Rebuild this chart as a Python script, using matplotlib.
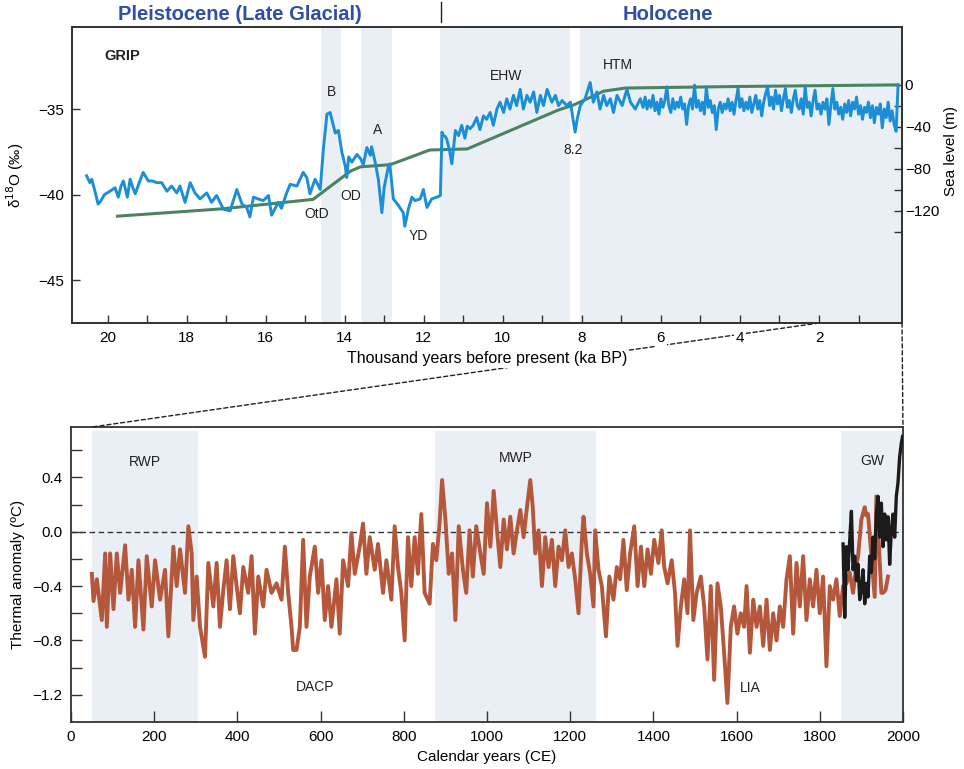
import matplotlib
matplotlib.use('Agg')
import matplotlib.pyplot as plt
import numpy as np
from matplotlib.patches import ConnectionPatch
from matplotlib.ticker import FuncFormatter

plt.rcParams['font.family'] = ['Liberation Sans', 'DejaVu Sans']

# ---------------- GRIP d18O (ka BP, permil) ----------------
grip_glacial = [
    (20.53, -38.9), (20.45, -39.3), (20.40, -39.1), (20.32, -39.8), (20.24, -40.55),
    (20.18, -40.4), (20.08, -40.0), (19.94, -39.8), (19.81, -39.6), (19.73, -40.15),
    (19.66, -39.5), (19.60, -39.2), (19.50, -40.15), (19.43, -39.1), (19.36, -39.6),
    (19.30, -39.95), (19.20, -39.3), (19.10, -38.7), (18.97, -39.2), (18.86, -39.2),
    (18.76, -39.3), (18.63, -39.3), (18.50, -39.8), (18.38, -39.5), (18.25, -39.9),
    (18.17, -39.5), (18.04, -40.45), (17.91, -39.3), (17.79, -39.9), (17.66, -40.25),
    (17.49, -39.9), (17.37, -40.45), (17.24, -40.05), (17.07, -40.85), (16.90, -40.95),
    (16.73, -39.7), (16.60, -40.55), (16.48, -40.75), (16.40, -41.3), (16.31, -40.15),
    (16.19, -40.25), (16.06, -40.35), (15.93, -40.05), (15.85, -41.2), (15.68, -40.45),
    (15.60, -40.8), (15.47, -39.9), (15.38, -39.4), (15.21, -39.5), (15.05, -38.7),
    (14.96, -39.0), (14.88, -39.95), (14.75, -39.1), (14.62, -39.7), (14.54, -37.35),
    (14.45, -35.3), (14.37, -35.2), (14.29, -35.95), (14.24, -36.4), (14.16, -36.25),
    (14.07, -37.55), (13.99, -38.3), (13.95, -39.0), (13.90, -37.8), (13.82, -38.1),
    (13.69, -37.65), (13.60, -37.9), (13.53, -38.25), (13.44, -37.25), (13.35, -37.7),
    (13.32, -37.2), (13.23, -38.1), (13.15, -39.1), (13.06, -41.05), (13.00, -39.55),
    (12.89, -38.3), (12.86, -38.2), (12.77, -40.25), (12.65, -40.6), (12.52, -41.05),
    (12.48, -41.85), (12.39, -40.85), (12.30, -40.15), (12.22, -40.35), (12.09, -40.25),
    (12.01, -39.7), (11.92, -40.75), (11.80, -40.25), (11.67, -40.15), (11.58, -40.05),
]

grip_early_holocene = [
    (11.54, -36.35), (11.50, -36.55), (11.46, -36.6), (11.42, -36.75), (11.35, -37.4),
    (11.29, -38.2), (11.20, -36.25), (11.12, -36.55), (11.04, -35.95), (10.96, -36.7),
    (10.90, -36.0), (10.83, -36.15), (10.75, -35.95), (10.66, -35.5), (10.58, -36.2),
    (10.49, -35.4), (10.41, -35.6), (10.32, -35.2), (10.24, -35.95), (10.15, -35.0),
    (10.07, -34.6), (9.98, -35.2), (9.90, -34.4), (9.82, -35.0), (9.73, -34.2),
    (9.65, -34.8), (9.56, -33.85), (9.48, -35.0), (9.39, -34.2), (9.31, -34.6),
    (9.22, -34.0), (9.14, -35.2), (9.05, -34.2), (8.97, -34.8), (8.88, -33.85),
    (8.76, -34.6), (8.67, -34.2), (8.59, -34.8), (8.50, -34.5), (8.38, -34.8),
    (8.29, -34.6), (8.21, -35.8), (8.17, -36.35), (8.12, -35.6), (8.04, -34.8),
    (7.92, -34.4), (7.79, -33.45), (7.71, -34.6), (7.62, -34.0), (7.54, -35.0),
    (7.45, -34.2), (7.37, -34.8), (7.28, -34.4), (7.20, -35.2), (7.11, -34.2),
    (6.98, -34.8), (6.86, -33.85), (6.77, -34.6), (6.65, -35.0), (6.52, -34.4),
]

# late Holocene, 6.45 -> 0.00 ka every 50 yr
late_holocene_ka = np.round(np.arange(6.45, -0.001, -0.05), 2)
late_holocene_d18o = [
    -34.9, -34.3, -35.0, -34.5, -34.9, -34.2, -35.1, -34.6, -35.3, -34.4,
    -34.9, -34.5, -33.7, -34.8, -35.2, -34.4, -35.0, -34.6, -34.9, -34.3,
    -35.0, -34.7, -35.9, -34.8, -34.4, -35.0, -33.6, -34.9, -34.5, -35.1,
    -34.6, -35.3, -33.7, -34.9, -34.5, -35.2, -34.8, -36.2, -35.0, -34.6,
    -35.2, -34.7, -35.0, -34.4, -35.1, -34.6, -35.3, -34.5, -33.8, -34.9,
    -34.4, -35.1, -34.6, -35.0, -34.3, -35.2, -34.7, -34.2, -35.0, -34.5,
    -35.4, -34.6, -34.1, -33.7, -34.8, -34.3, -35.0, -33.9, -34.7, -34.2,
    -35.1, -34.4, -33.8, -34.9, -34.5, -35.2, -34.4, -33.9, -34.8, -35.0,
    -34.4, -35.3, -33.7, -34.9, -34.6, -35.4, -34.5, -33.9, -35.0, -34.7,
    -35.3, -34.6, -35.0, -34.4, -35.9, -34.8, -33.8, -35.0, -34.6, -35.3,
    -34.9, -35.6, -34.7, -35.2, -34.5, -35.4, -34.6, -35.0, -34.3, -35.3,
    -34.8, -35.6, -34.9, -35.2, -34.6, -35.5, -34.8, -35.8, -34.9, -35.3,
    -34.7, -36.1, -35.0, -35.5, -34.6, -35.7, -35.1, -35.9, -36.3, -33.6,
]

# relative sea level (ka BP, m)
sea_level = [
    (19.75, -125), (17.1, -118), (14.8, -109), (13.85, -82), (13.6, -78),
    (12.85, -76), (11.85, -62), (10.9, -61), (8.6, -24), (8.2, -19),
    (7.45, -6), (6.9, -3), (4.0, -1.5), (0.0, 0),
]

top_bands = [(14.6, 14.1), (13.6, 12.8), (11.6, 8.3), (8.05, -0.2)]

# ---------------- Thermal anomaly, calendar years ----------------
proxy_anomaly = [
    (50, -0.31), (54, -0.51), (62, -0.35), (70, -0.55), (74, -0.65), (82, -0.16),
    (86, -0.70), (94, -0.16), (102, -0.57), (110, -0.16), (118, -0.45), (130, -0.10),
    (138, -0.50), (146, -0.28), (154, -0.70), (162, -0.21), (174, -0.72), (182, -0.18),
    (194, -0.55), (202, -0.21), (214, -0.50), (226, -0.28), (234, -0.77), (246, -0.11),
    (254, -0.40), (262, -0.13), (274, -0.45), (282, 0.04), (290, -0.16), (294, -0.65),
    (302, -0.33), (310, -0.70), (322, -0.92), (330, -0.23), (342, -0.55), (350, -0.23),
    (358, -0.70), (366, -0.43), (374, -0.21), (382, -0.57), (390, -0.18), (398, -0.40),
    (406, -0.60), (414, -0.26), (426, -0.45), (434, -0.18), (442, -0.75), (450, -0.33),
    (462, -0.55), (470, -0.28), (482, -0.45), (494, -0.38), (506, -0.50), (514, -0.11),
    (522, -0.45), (530, -0.70), (534, -0.87), (542, -0.87), (550, -0.70), (558, -0.06),
    (566, -0.70), (574, -0.33), (586, -0.11), (594, -0.45), (602, -0.21), (610, -0.65),
    (618, -0.40), (626, -0.70), (638, -0.35), (646, -0.75), (654, -0.21), (666, -0.40),
    (674, -0.01), (682, -0.31), (694, -0.11), (702, 0.06), (710, -0.31), (718, -0.04),
    (730, -0.28), (738, -0.09), (750, -0.45), (758, -0.21), (770, -0.50), (778, 0.04),
    (786, -0.26), (794, -0.45), (802, -0.80), (810, -0.04), (818, -0.40), (826, -0.04),
    (834, -0.31), (842, 0.13), (850, -0.45), (862, -0.53), (870, -0.09), (878, -0.21),
    (886, 0.06), (892, 0.38), (900, 0.09), (908, -0.31), (916, -0.16), (924, -0.65),
    (932, 0.04), (942, -0.28), (950, -0.45), (958, 0.01), (966, -0.33), (974, 0.04),
    (984, -0.16), (992, -0.31), (1000, 0.21), (1008, -0.11), (1016, 0.30), (1024, 0.01),
    (1032, -0.26), (1040, 0.09), (1048, -0.13), (1056, 0.11), (1064, -0.16), (1072, 0.01),
    (1080, 0.16), (1088, -0.04), (1096, 0.18), (1104, 0.38), (1110, 0.18), (1116, -0.16),
    (1124, 0.01), (1132, -0.40), (1140, -0.04), (1148, -0.26), (1156, -0.06), (1164, -0.40),
    (1172, -0.11), (1180, -0.21), (1188, 0.01), (1196, -0.26), (1204, -0.16), (1212, -0.35),
    (1220, -0.60), (1228, -0.06), (1232, 0.11), (1240, -0.16), (1248, -0.31), (1256, -0.55),
    (1260, 0.01), (1268, -0.28), (1276, -0.40), (1286, -0.77), (1294, -0.33), (1304, -0.50),
    (1312, -0.26), (1320, -0.35), (1328, -0.06), (1336, -0.43), (1344, -0.16), (1354, 0.04),
    (1362, -0.40), (1370, -0.11), (1378, -0.40), (1386, -0.13), (1394, -0.31), (1402, -0.06),
    (1412, -0.23), (1420, 0.01), (1426, -0.26), (1434, -0.38), (1444, -0.21), (1452, -0.45),
    (1458, -0.84), (1466, -0.55), (1474, -0.35), (1482, -0.60), (1488, 0.01), (1496, -0.65),
    (1504, -0.45), (1514, -0.33), (1522, -0.55), (1530, -0.94), (1538, -0.40), (1546, -1.09),
    (1554, -0.38), (1562, -0.55), (1570, -0.89), (1578, -1.26), (1586, -0.70), (1594, -0.55),
    (1602, -0.75), (1610, -0.60), (1618, -0.70), (1624, -0.40), (1632, -0.89), (1640, -0.50),
    (1648, -0.70), (1656, -0.55), (1664, -0.84), (1672, -0.50), (1680, -0.87), (1688, -0.60),
    (1696, -0.80), (1704, -0.55), (1712, -0.70), (1720, -0.35), (1728, -0.18), (1736, -0.75),
    (1744, -0.23), (1752, -0.55), (1760, -0.18), (1768, -0.65), (1776, -0.35), (1784, -0.55),
    (1792, -0.28), (1800, -0.60), (1808, -0.33), (1816, -0.99), (1824, -0.40), (1832, -0.50),
    (1840, -0.35), (1848, -0.62), (1856, -0.40), (1864, -0.38), (1872, -0.30), (1880, -0.45),
    (1888, -0.25), (1892, -0.18), (1900, 0.09), (1908, 0.18), (1912, 0.12), (1916, 0.13),
    (1924, -0.18), (1932, -0.48), (1936, 0.26), (1944, -0.21), (1948, -0.45), (1952, -0.45),
    (1958, -0.43), (1964, -0.33),
]

instrumental_anomaly = [
    (1856, -0.09), (1860, -0.63), (1864, -0.11), (1868, -0.28), (1872, -0.06), (1876, 0.15),
    (1880, -0.28), (1884, -0.18), (1888, -0.36), (1892, -0.24), (1896, -0.50), (1900, -0.43),
    (1904, -0.28), (1908, -0.53), (1912, -0.38), (1916, -0.48), (1920, -0.18), (1924, -0.30),
    (1928, -0.04), (1932, -0.20), (1936, 0.13), (1940, 0.26), (1944, -0.04), (1948, 0.21),
    (1952, -0.11), (1956, 0.13), (1960, -0.06), (1964, 0.11), (1968, -0.24), (1972, 0.01),
    (1976, 0.13), (1980, -0.04), (1984, 0.26), (1988, 0.36), (1992, 0.55), (1996, 0.65),
    (1999, 0.70),
]

bottom_bands = [(50, 305), (875, 1262), (1850, 2000)]

BAND = '#e9eff4'
BLUE = '#1a8ed6'
GREEN = '#4a8360'
RED = '#b5573b'
SPINE = '#333333'
HEAD = '#2f4fa6'


def minus(v, fmt):
    return fmt.format(v).replace('-', '\u2212')


fig = plt.figure(figsize=(9.64, 7.69), dpi=100)
ax1 = fig.add_axes([0.0747, 0.580, 0.861, 0.385])
ax_sl = ax1.twinx()
ax2 = fig.add_axes([0.0737, 0.0611, 0.863, 0.3836])

# sea level axis behind the d18O axis so the blue curve sits on top
ax_sl.set_zorder(0)
ax1.set_zorder(1)
ax1.patch.set_visible(False)

for a, b in top_bands:
    ax_sl.axvspan(a, b, color=BAND, lw=0, zorder=0)

sx, sy = zip(*sea_level)
ax_sl.plot(sx, sy, color=GREEN, lw=2.2, zorder=2)

gx = [p[0] for p in grip_glacial] + [p[0] for p in grip_early_holocene] + list(late_holocene_ka)
gy = [p[1] for p in grip_glacial] + [p[1] for p in grip_early_holocene] + late_holocene_d18o
ax1.plot(gx, gy, color=BLUE, lw=2.1, zorder=3)

ax1.set_xlim(20.9, -0.1)
ax1.set_ylim(-47.5, -30.2)
ax1.set_xticks([20, 18, 16, 14, 12, 10, 8, 6, 4, 2])
ax1.set_xticks([19, 17, 15, 13, 11, 9, 7, 5, 3, 1], minor=True)
ax1.set_yticks([-35, -40, -45])
ax1.yaxis.set_major_formatter(FuncFormatter(lambda v, p: minus(v, '{:.0f}')))
ax1.tick_params(which='both', direction='in', length=6, width=1, color=SPINE,
                labelsize=11, pad=6)

ax_sl.set_ylim(-226.7, 55.2)
ax_sl.set_yticks([0, -40, -80, -120])
ax_sl.set_yticks([-20, -60, -100, -140], minor=True)
ax_sl.yaxis.set_major_formatter(FuncFormatter(lambda v, p: minus(v, '{:.0f}')))
ax_sl.tick_params(which='both', direction='in', length=6, width=1, color=SPINE,
                  labelsize=11, pad=2)
ax_sl.set_ylabel('Sea level (m)', fontsize=11)
ax_sl.yaxis.set_label_coords(1.051, 0.58)

for a in (ax1, ax_sl, ax2):
    for s in a.spines.values():
        s.set_color(SPINE)
        s.set_linewidth(1.3)

ax1.set_ylabel('\u03b4$^{18}$O (\u2030)', fontsize=11)
ax1.yaxis.set_label_coords(-0.056, 0.5)
xl = ax1.set_xlabel('Thousand years before present (ka BP)', fontsize=11.5)
xl.set_bbox(dict(fc='white', ec='none', pad=1))
ax1.xaxis.set_label_coords(0.5, -0.095)
for lbl in ax1.get_xticklabels():
    lbl.set_bbox(dict(fc='white', ec='none', pad=1))

top_text = [('B', 14.34, -34.0), ('A', 13.18, -36.23), ('OD', 13.86, -40.09),
            ('OtD', 14.7, -41.14), ('YD', 12.14, -42.43), ('EHW', 9.91, -33.07),
            ('8.2', 8.22, -37.4), ('HTM', 7.08, -32.43)]
for t, x, y in top_text:
    ax1.text(x, y, t, fontsize=10, ha='center', va='center', color='#222222', zorder=5)
ax1.text(20.07, -31.9, 'GRIP', fontsize=10.5, fontweight='bold', ha='left', va='center',
         color='#222222')

# headers
fig.text(0.249, 0.981, 'Pleistocene (Late Glacial)', color=HEAD, fontsize=14.5,
         fontweight='bold', ha='center', va='center')
fig.text(0.693, 0.981, 'Holocene', color=HEAD, fontsize=14.5,
         fontweight='bold', ha='center', va='center')
fig.add_artist(plt.Line2D([0.4575, 0.4575], [0.971, 0.997], color='#222222', lw=1))

# ---------------- bottom panel ----------------
for a, b in bottom_bands:
    ax2.axvspan(a, b, ymax=0.985, color=BAND, lw=0, zorder=0)
ax2.axhline(0.0, color='#333333', lw=1, ls=(0, (4, 2.5)), zorder=1)

rx, ry = zip(*proxy_anomaly)
ax2.plot(rx, ry, color=RED, lw=2.8, zorder=2)
bx, by = zip(*instrumental_anomaly)
ax2.plot(bx, by, color='#1b1b1b', lw=2.4, zorder=3)

ax2.set_xlim(0, 2000)
ax2.set_ylim(-1.4, 0.77)
ax2.set_xticks(range(0, 2001, 200))
ax2.set_yticks([0.4, 0.0, -0.4, -0.8, -1.2])
ax2.set_yticks([0.6, 0.2, -0.2, -0.6, -1.0], minor=True)
ax2.yaxis.set_major_formatter(FuncFormatter(lambda v, p: minus(v, '{:.1f}')))
ax2.tick_params(which='both', direction='in', length=8, width=1, color=SPINE,
                labelsize=11, pad=6)
ax2.set_ylabel('Thermal anomaly (\u00baC)', fontsize=11)
ax2.yaxis.set_label_coords(-0.055, 0.5)
ax2.set_xlabel('Calendar years (CE)', fontsize=11)
ax2.xaxis.set_label_coords(0.5, -0.095)

bottom_text = [('RWP', 178, 0.51), ('MWP', 1070, 0.54), ('GW', 1925, 0.52),
               ('DACP', 586, -1.14), ('LIA', 1632, -1.15)]
for t, x, y in bottom_text:
    ax2.text(x, y, t, fontsize=10, ha='center', va='center', color='#222222')

# zoom connectors between the panels
for xa, xb in ((2.0, 50), (-0.1, 2000)):
    con = ConnectionPatch(xyA=(xa, -47.5), coordsA=ax1.transData,
                          xyB=(xb, 0.77), coordsB=ax2.transData,
                          color='#222222', lw=1, ls=(0, (3, 2)), zorder=1)
    con.set_clip_on(False)
    ax1.add_artist(con)

fig.savefig('out.png', dpi=100)
